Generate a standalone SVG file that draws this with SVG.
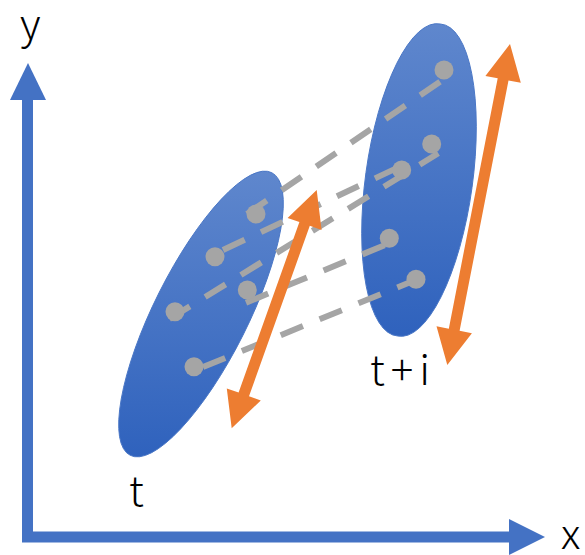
<svg xmlns="http://www.w3.org/2000/svg" width="585" height="555" viewBox="0 0 585 555">
  <defs>
    <linearGradient id="blueGrad" x1="0" y1="0" x2="0" y2="1">
      <stop offset="0" stop-color="#5f87cd"/>
      <stop offset="1" stop-color="#2f62bd"/>
    </linearGradient>
    <style>
      .cluster { fill: url(#blueGrad); stroke: #4a77c6; stroke-width: 1; }
      .axis { fill: none; stroke: #4472c4; stroke-width: 11; stroke-linejoin: miter; }
      .axishead { fill: #4472c4; }
      .link { fill: none; stroke: #a5a5a5; stroke-width: 6; stroke-dasharray: 24 18; }
      .dot { fill: #a5a5a5; }
      .range { fill: #ed7d31; }
      .label { font-family: "Noto Sans CJK JP", "Open Sans", sans-serif; font-weight: 300; font-size: 42px; fill: #000000; }
    </style>
  </defs>
  <rect width="585" height="555" fill="#ffffff"/>

  <g id="axes">
    <polyline class="axis" points="27.5,96 27.5,537 512,537"/>
    <polygon class="axishead" points="28,63 10,100 46,100"/>
    <polygon class="axishead" points="545,537 509,519 509,555"/>
    <text class="label" x="20" y="39">y</text>
    <text class="label" x="561" y="549">x</text>
  </g>

  <g id="cluster-t">
    <path class="cluster" d="M271.8,172.7 A158,47 -63.4 1 0 130.2,455.3 A158,47 -63.4 1 0 271.8,172.7 Z"/>
    <text class="label" x="129" y="506">t</text>
  </g>

  <g id="cluster-ti">
    <path class="cluster" d="M440.4,24 A157.5,52.4 -82.2 1 0 397.6,336 A157.5,52.4 -82.2 1 0 440.4,24 Z"/>
    <text class="label" x="370" y="385" textLength="60" lengthAdjust="spacing">t+i</text>
  </g>

  <g id="connectors">
    <line class="link" x1="247" y1="214" x2="444" y2="79"/>
    <line class="link" x1="223" y1="250" x2="397" y2="168"/>
    <line class="link" x1="169.4" y1="319" x2="438.3" y2="153.3"/>
    <line class="link" x1="246" y1="302.7" x2="385" y2="245"/>
    <line class="link" x1="203" y1="367" x2="411.8" y2="281.5"/>
  </g>

  <g id="dots-t">
    <circle class="dot" cx="256" cy="214" r="9.5"/>
    <circle class="dot" cx="215" cy="256.7" r="9.5"/>
    <circle class="dot" cx="247.3" cy="290" r="9.5"/>
    <circle class="dot" cx="175" cy="311.7" r="9.5"/>
    <circle class="dot" cx="194" cy="366.7" r="9.5"/>
  </g>

  <g id="dots-ti">
    <circle class="dot" cx="444" cy="70" r="9.5"/>
    <circle class="dot" cx="431.7" cy="144" r="9.5"/>
    <circle class="dot" cx="401.7" cy="170" r="9.5"/>
    <circle class="dot" cx="389.3" cy="238.3" r="9.5"/>
    <circle class="dot" cx="416" cy="279.3" r="9.5"/>
  </g>

  <g id="range-t">
    <polygon class="range" points="316.7,190 321.6,229.9 309.8,225.8 249,396.3 260.8,400.5 231.7,428.3 226.8,388.4 238.6,392.6 299.4,222.1 287.6,217.9"/>
  </g>

  <g id="range-ti">
    <polygon class="range" points="510,44 520.8,82.8 508.5,80.4 459.6,330.8 471.9,333.2 447.3,365 436.5,326.3 448.8,328.7 497.7,78.3 485.4,75.9"/>
  </g>
</svg>
